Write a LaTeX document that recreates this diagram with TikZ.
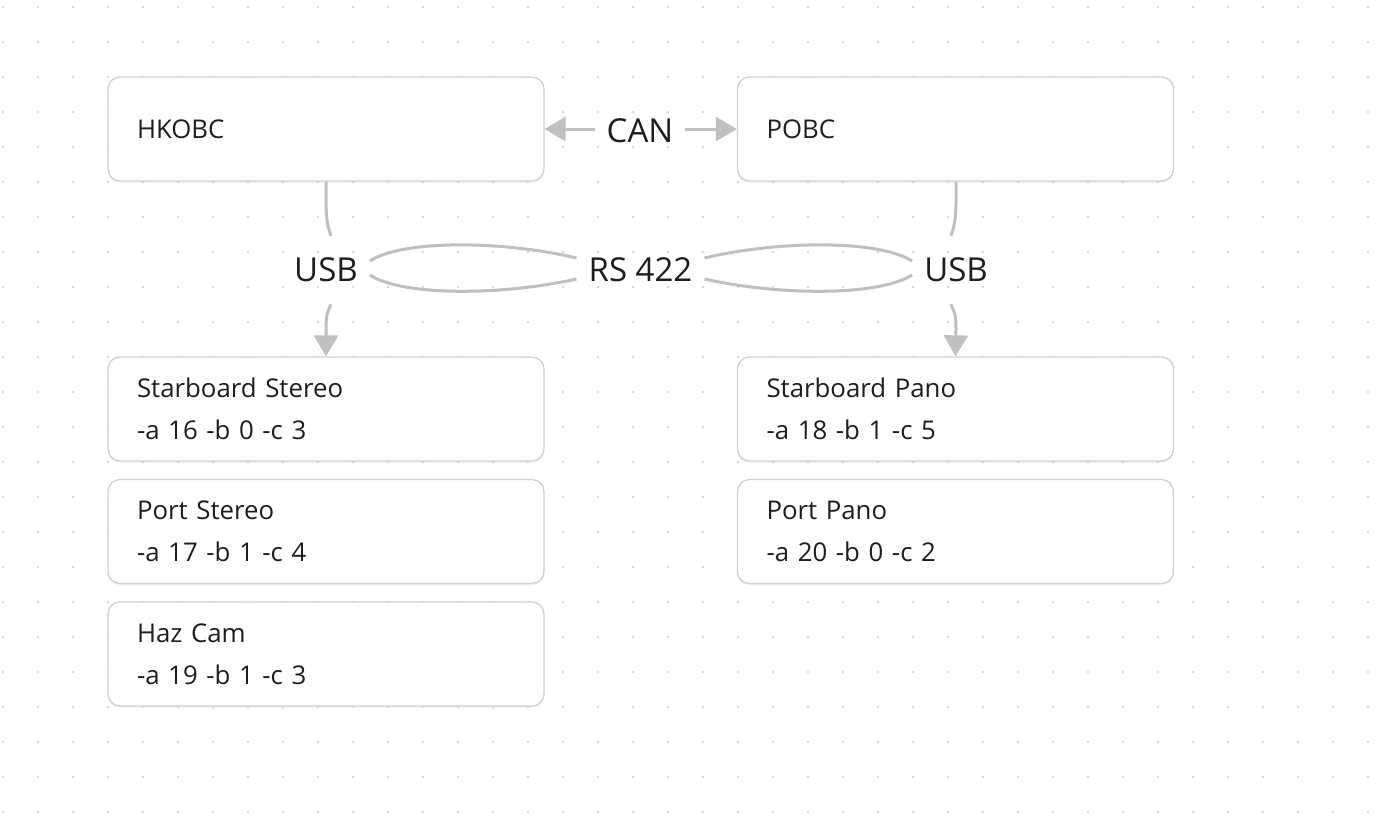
\documentclass[tikz,border=0pt]{standalone}
\usepackage{fontspec}
\setmainfont{Open Sans}
\usetikzlibrary{arrows.meta,shadows}
\definecolor{edgegray}{HTML}{C0C0C0}
\definecolor{boxborder}{HTML}{D0D0D0}
\definecolor{dotgray}{HTML}{D6D6D6}
\definecolor{textdark}{HTML}{1E1E1E}
\begin{document}
\begin{tikzpicture}[x=1pt,y=-1pt,
 box/.style={draw=boxborder, line width=1.3pt, fill=white, rounded corners=12pt,
   minimum width=436pt, minimum height=104pt, text width=378pt, inner xsep=29pt,
   inner ysep=0pt, align=left, font=\fontsize{25.8}{42}\selectfont, text=textdark,
   drop shadow={shadow xshift=0pt,shadow yshift=-1.5pt,opacity=0.12}},
 lbl/.style={inner xsep=12pt, inner ysep=0pt, minimum height=68pt,
   font=\fontsize{33}{38}\selectfont, text=textdark},
 edge/.style={draw=edgegray, line width=3pt},
 arrowend/.style={-{Triangle[length=21pt,width=24pt]}}]
\useasboundingbox (0,0) rectangle (1382,831);
\fill[white] (0,0) rectangle (1382,831);
\foreach \i in {0,...,39}
  \foreach \j in {0,...,23}
    \fill[dotgray] (3+35*\i, 7+35*\j) circle (1.3pt);

\node[box] (hk) at (326,129) {HKOBC};
\node[box] (po) at (955.5,129) {POBC};
\node[box] (ss) at (326,409) {Starboard Stereo\\-a 16 -b 0 -c 3};
\node[box] (ps) at (326,531.5) {Port Stereo\\-a 17 -b 1 -c 4};
\node[box] (hz) at (326,654) {Haz Cam\\-a 19 -b 1 -c 3};
\node[box] (sp) at (955.5,409) {Starboard Pano\\-a 18 -b 1 -c 5};
\node[box] (pp) at (955.5,531.5) {Port Pano\\-a 20 -b 0 -c 2};

\node[lbl] (can) at (640,131) {CAN};
\node[lbl] (usbL) at (326,270) {USB};
\node[lbl] (rs) at (640.5,270) {RS 422};
\node[lbl] (usbR) at (956,270) {USB};

% CAN
\draw[edge,arrowend] ([yshift=2pt]can.west) -- ([yshift=2pt]can.west -| hk.east);
\draw[edge,arrowend] ([yshift=2pt]can.east) -- ([yshift=2pt]can.east -| po.west);

% USB left
\draw[edge] (hk.south -| usbL.center) -- ++(0,20) .. controls +(0,17) and +(-3,-8) .. ([xshift=5pt]usbL.north);
\draw[edge,arrowend] ([xshift=5pt]usbL.south) .. controls +(-3,8) and +(0,-17) .. ++(-5,25) -- (ss.north);
% USB right
\draw[edge] (po.south -| usbR.center) -- ++(0,20) .. controls +(0,17) and +(3,-8) .. ([xshift=-5pt]usbR.north);
\draw[edge,arrowend] ([xshift=-5pt]usbR.south) .. controls +(3,8) and +(0,-17) .. ++(5,25) -- (sp.north);

% RS 422 loops
\draw[edge] ([yshift=9pt]usbL.east) .. controls +(32,-21) and +(-77,-18) .. ([yshift=12pt]rs.west);
\draw[edge] ([yshift=-5pt]usbL.east) .. controls +(32,21) and +(-77,17) .. ([yshift=-9pt]rs.west);
\draw[edge] ([yshift=12pt]rs.east) .. controls +(76,-18) and +(-33,-21) .. ([yshift=9pt]usbR.west);
\draw[edge] ([yshift=-9pt]rs.east) .. controls +(76,17) and +(-33,21) .. ([yshift=-5pt]usbR.west);
\end{tikzpicture}
\end{document}
